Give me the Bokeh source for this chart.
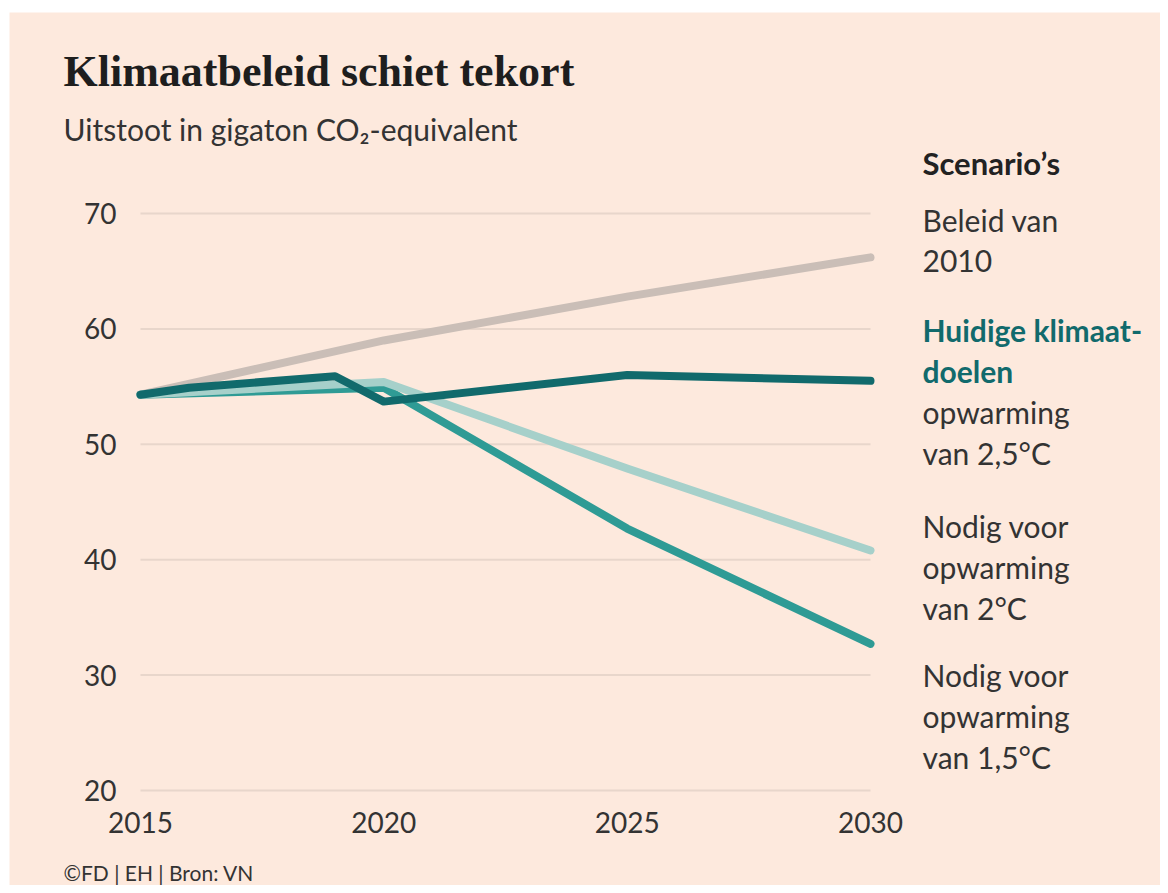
from bokeh.plotting import figure
from bokeh.models import FixedTicker
from bokeh.core.properties import value
from bokeh.embed import file_html
from bokeh.resources import INLINE

# ---- data ----
years_2010 = [2015, 2020, 2025, 2030]
beleid_2010 = [54.3, 59.0, 62.8, 66.2]

years_huidig = [2015, 2016, 2019, 2020, 2025, 2030]
huidige_doelen = [54.3, 54.9, 55.9, 53.7, 56.0, 55.5]

years_2c = [2015, 2020, 2025, 2030]
nodig_2c = [54.3, 55.4, 47.9, 40.8]

years_15c = [2015, 2020, 2025, 2030]
nodig_15c = [54.3, 54.9, 42.7, 32.7]

x_ticks = [2015, 2020, 2025, 2030]
y_ticks = [20, 30, 40, 50, 60, 70]

title_text = "Klimaatbeleid schiet tekort"
subtitle_text = "Uitstoot in gigaton CO\u2082-equivalent"
legend_head = "Scenario\u2019s"
legend_2010 = ["Beleid van", "2010"]
legend_huidig_bold = ["Huidige klimaat-", "doelen"]
legend_huidig = ["opwarming", "van 2,5\u00b0C"]
legend_2c = ["Nodig voor", "opwarming", "van 2\u00b0C"]
legend_15c = ["Nodig voor", "opwarming", "van 1,5\u00b0C"]
footer_text = "\u00a9FD | EH | Bron: VN"

# ---- style ----
BG = "#fde9dd"
GRID = "#e8d6cb"
TXT = "#333333"
C_GREY = "#cabeb7"
C_DARK = "#116a6c"
C_MED = "#2f9b95"
C_LIGHT = "#a6d0ca"
FONT = "Lato"

W, H = 1160, 885
BL, BT = 9, 12                 # white margin left / top
PX2015, PX2030 = 140, 870      # pixel positions of 2015 / 2030
PY70, PY20 = 213, 790          # pixel positions of 70 / 20
XS = (PX2030 - PX2015) / 15.0
YS = (PY20 - PY70) / 50.0

def dx(px):
    return 2015 + (px - PX2015) / XS

def dy(py):
    return 20 + (PY20 - py) / YS

p = figure(width=W, height=H,
           x_range=(dx(BL), dx(W)), y_range=(dy(H), dy(BT)),
           output_backend="svg", toolbar_location=None, title=None,
           min_border_left=BL, min_border_top=BT, min_border_right=0, min_border_bottom=0)
p.background_fill_color = BG
p.border_fill_color = "white"
p.outline_line_color = None
p.grid.visible = False

for ax in (p.xaxis, p.yaxis):
    ax.axis_line_color = None
    ax.major_tick_line_color = None
    ax.minor_tick_line_color = None
    ax.major_tick_out = 0
    ax.major_tick_in = 0
    ax.minor_tick_out = 0
    ax.major_label_text_font = FONT
    ax.major_label_text_font_size = "28px"
    ax.major_label_text_color = TXT
p.xaxis.ticker = FixedTicker(ticks=x_ticks)
p.yaxis.ticker = FixedTicker(ticks=y_ticks)
p.xaxis.fixed_location = y_ticks[0]
p.yaxis.fixed_location = x_ticks[0]
p.xaxis.major_label_standoff = 21
p.yaxis.major_label_standoff = 24

# horizontal gridlines between first and last year
p.segment(x0=[x_ticks[0]] * len(y_ticks), x1=[x_ticks[-1]] * len(y_ticks),
          y0=y_ticks, y1=y_ticks, line_color=GRID, line_width=2)

LW = 8
p.line(years_2010, beleid_2010, line_color=C_GREY, line_width=LW, line_cap="round", line_join="round")
p.line(years_15c, nodig_15c, line_color=C_MED, line_width=LW, line_cap="round", line_join="round")
p.line(years_2c, nodig_2c, line_color=C_LIGHT, line_width=LW, line_cap="round", line_join="round")
p.line(years_huidig, huidige_doelen, line_color=C_DARK, line_width=LW, line_cap="round", line_join="round")


def put(px_list, py_list, texts, size, color=TXT, font=FONT, style="normal"):
    # py_list holds the wanted baselines; shift by the renderer's baseline offset
    off = 0.4 * size
    p.text(x=[dx(v) for v in px_list], y=[dy(v - off) for v in py_list], text=texts,
           text_font=value(font), text_font_size=value(f"{size}px"),
           text_color=color, text_font_style=style,
           text_baseline="alphabetic", text_align="left")


put([63], [89], [title_text], 44, color="#1e1e1e", font="Liberation Serif", style="bold")
put([63], [140], [subtitle_text], 30)
put([63], [880], [footer_text], 21)

LX = 922
put([LX], [175], [legend_head], 31, color="#222222", style="bold")
put([LX] * 2, [231, 272], legend_2010, 30)
put([LX] * 2, [341, 382], legend_huidig_bold, 30, color=C_DARK, style="bold")
put([LX] * 2, [423, 464], legend_huidig, 30)
put([LX] * 3, [537, 578, 619], legend_2c, 30)
put([LX] * 3, [686, 727, 768], legend_15c, 30)

open("out.html", "w").write(file_html(p, INLINE))
